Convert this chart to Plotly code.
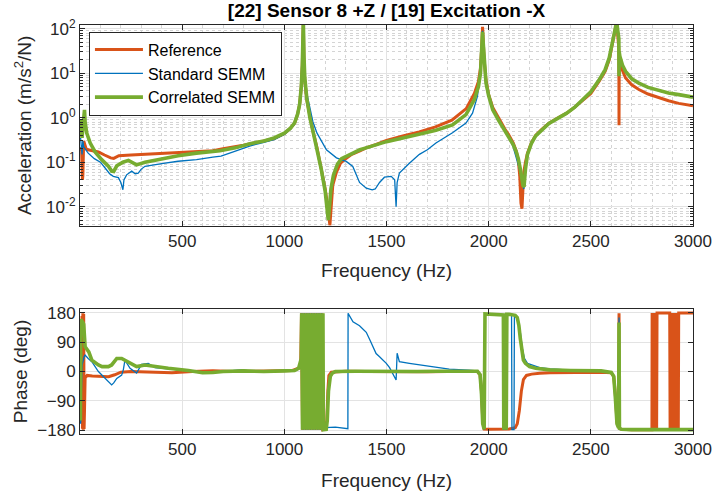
import plotly.graph_objects as go

# ---------------- data ----------------
ref_f = [3, 8, 12, 14, 18, 22, 30, 40, 60, 90, 120, 150, 165, 190, 250, 320, 400, 480, 570, 650, 700, 800, 900, 950,
         1000, 1030, 1050, 1065, 1075, 1083, 1088, 1091, 1093, 1096, 1100, 1110, 1125, 1140, 1160, 1180, 1200, 1210,
         1217, 1223, 1228, 1237, 1255, 1275, 1300, 1330, 1370, 1400, 1450, 1500, 1580, 1660, 1740, 1820, 1890, 1930,
         1950, 1960, 1966, 1970, 1973, 1978, 1987, 2000, 2020, 2050, 2080, 2100, 2120, 2135, 2145, 2152, 2158, 2163,
         2166, 2172, 2180, 2190, 2210, 2230, 2260, 2295, 2340, 2380, 2420, 2460, 2500, 2540, 2570, 2590, 2605, 2615,
         2622, 2628, 2633, 2637, 2638, 2639, 2642, 2650, 2670, 2700, 2735, 2780, 2830, 2880, 2930, 2970, 3000]
ref_mag = [0.22, 0.18, 0.04, 0.05, 0.3, 0.25, 0.2, 0.19, 0.18, 0.17, 0.145, 0.125, 0.122, 0.14, 0.145, 0.15, 0.155,
           0.16, 0.17, 0.18, 0.2, 0.24, 0.3, 0.34, 0.44, 0.58, 0.75, 1.2, 2.0, 5, 15, 60, 150, 20, 7, 2.5, 1.0, 0.5,
           0.21, 0.075, 0.025, 0.012, 0.006, 0.0038, 0.008, 0.03, 0.06, 0.095, 0.12, 0.15, 0.18, 0.21, 0.25, 0.31,
           0.39, 0.48, 0.62, 0.88, 1.6, 3.5, 6.5, 13, 38, 110, 60, 20, 7, 3.3, 1.7, 0.95, 0.55, 0.4, 0.27, 0.18, 0.11,
           0.05, 0.012, 0.009, 0.015, 0.06, 0.1, 0.16, 0.28, 0.4, 0.55, 0.75, 1.0, 1.25, 1.7, 2.4, 3.5, 6.5, 11, 20,
           40, 75, 110, 130, 60, 35, 0.68, 28, 20, 13, 7.8, 5.5, 4.3, 3.4, 2.8, 2.4, 2.1, 1.95, 1.85]

std_f = [3, 6, 10, 14, 18, 25, 40, 70, 100, 123, 145, 163, 188, 200, 210, 215, 228, 253, 270, 285, 300, 318, 360, 400,
         480, 570, 650, 690, 750, 830, 900, 950, 1000, 1030, 1050, 1065, 1075, 1083, 1088, 1091, 1093, 1096, 1100,
         1110, 1125, 1140, 1160, 1180, 1206, 1255, 1303, 1335, 1355, 1368, 1401, 1430, 1445, 1466, 1490, 1523, 1540,
         1547, 1552, 1563, 1612, 1661, 1700, 1742, 1823, 1889, 1921, 1945, 1958, 1966, 1970, 1973, 1978, 1987, 2000,
         2020, 2050, 2080, 2100, 2120, 2135, 2145, 2155, 2165, 2172, 2178, 2190, 2210, 2230, 2260, 2295, 2340, 2380,
         2420, 2460, 2500, 2540, 2570, 2590, 2605, 2615, 2622, 2628, 2633, 2637, 2638, 2639, 2642, 2655, 2670, 2700,
         2735, 2780, 2830, 2880, 2930, 2970, 3000]
std_mag = [0.35, 0.25, 0.15, 0.3, 0.22, 0.2, 0.16, 0.12, 0.1, 0.074, 0.055, 0.048, 0.045, 0.035, 0.024, 0.04, 0.052,
           0.063, 0.055, 0.057, 0.07, 0.081, 0.088, 0.093, 0.105, 0.114, 0.13, 0.137, 0.17, 0.23, 0.28, 0.32, 0.42,
           0.55, 0.72, 1.15, 2.0, 5, 15, 60, 110, 25, 9, 3.5, 1.6, 0.8, 0.45, 0.3, 0.19, 0.125, 0.104, 0.08, 0.05,
           0.035, 0.026, 0.024, 0.025, 0.035, 0.046, 0.048, 0.04, 0.01, 0.035, 0.057, 0.095, 0.15, 0.19, 0.27, 0.46,
           0.76, 1.26, 3, 9, 30, 90, 50, 17, 6.5, 3.2, 1.6, 0.9, 0.5, 0.35, 0.22, 0.13, 0.09, 0.06, 0.035, 0.025, 0.05,
           0.14, 0.26, 0.38, 0.53, 0.73, 0.97, 1.22, 1.65, 2.4, 3.7, 6.8, 11.5, 21, 43, 80, 105, 120, 85, 55, 10, 28,
           23, 14.5, 10.5, 7.3, 5.8, 4.7, 4.0, 3.5, 3.2, 3.0, 2.85]

cor_f = [3, 6, 10, 14, 18, 22, 25, 33, 50, 74, 106, 139, 155, 165, 180, 210, 237, 260, 277, 318, 400, 480, 570, 685,
         760, 832, 900, 950, 1000, 1030, 1050, 1065, 1075, 1083, 1088, 1091, 1093, 1096, 1100, 1110, 1125, 1140,
         1157, 1181, 1200, 1208, 1215, 1220, 1228, 1240, 1260, 1280, 1320, 1370, 1400, 1450, 1500, 1580, 1660, 1742,
         1823, 1889, 1929, 1950, 1960, 1966, 1970, 1973, 1978, 1987, 2000, 2020, 2050, 2080, 2100, 2120, 2135, 2145,
         2155, 2163, 2168, 2173, 2175, 2177, 2180, 2190, 2210, 2230, 2260, 2295, 2340, 2380, 2420, 2460, 2500, 2540,
         2570, 2590, 2605, 2615, 2622, 2628, 2633, 2637, 2638, 2639, 2642, 2655, 2670, 2700, 2735, 2780, 2830, 2880,
         2930, 2970, 3000]
cor_mag = [0.9, 0.5, 0.35, 0.6, 1.2, 1.5, 0.8, 0.45, 0.27, 0.17, 0.114, 0.081, 0.063, 0.062, 0.083, 0.1, 0.11,
           0.095, 0.087, 0.1, 0.12, 0.14, 0.16, 0.18, 0.21, 0.26, 0.3, 0.35, 0.45, 0.58, 0.76, 1.2, 2.0, 5, 15, 60,
           150, 25, 8, 2.7, 1.0, 0.5, 0.23, 0.068, 0.022, 0.011, 0.005, 0.009, 0.025, 0.05, 0.09, 0.12, 0.15, 0.19,
           0.21, 0.25, 0.29, 0.35, 0.42, 0.52, 0.69, 1.17, 2.5, 5, 10, 30, 85, 50, 18, 6, 3.1, 1.5, 0.85, 0.5, 0.36,
           0.25, 0.17, 0.12, 0.07, 0.04, 0.03, 0.028, 0.05, 0.03, 0.07, 0.15, 0.27, 0.39, 0.54, 0.74, 0.98, 1.25,
           1.7, 2.5, 3.8, 7, 12, 22, 45, 85, 115, 125, 90, 60, 8.5, 30, 24, 15, 11, 7.5, 6, 4.8, 4.1, 3.6, 3.3, 3.05,
           2.9]

ref_ph_f = [3, 8, 10, 12, 14, 16, 18, 20, 22, 25, 35, 60, 100, 140, 170, 200, 250, 350, 450, 550, 650, 750, 850, 950,
            1040, 1070, 1080, 1084, 1089, 1094, 1099, 1104, 1109, 1114, 1119, 1124, 1129, 1134, 1139, 1144, 1149,
            1154, 1159, 1164, 1169, 1174, 1179, 1184, 1188, 1200, 1208, 1213, 1218, 1230, 1300, 1400, 1500, 1600,
            1700, 1800, 1900, 1945, 1958, 1965, 1971, 1978, 2000, 2100, 2130, 2140, 2150, 2160, 2170, 2185, 2210,
            2250, 2300, 2400, 2550, 2600, 2612, 2620, 2628, 2636, 2638, 2640, 2650, 2700, 2799,
            2800, 2802, 2804, 2806, 2808, 2810, 2812, 2814, 2816, 2818, 2820, 2822, 2824,
            2886, 2888, 2890, 2892, 2894, 2896, 2898, 2900, 2902, 2904, 2906, 2908, 2910, 2912, 2914, 2916, 2918,
            2920, 2922, 2924, 2926, 2928, 2930, 3000]
ref_ph = [5, 0, 170, -175, 178, -178, 176, -176, -120, -20, -12, -14, -15, -16, -10, -2, 0, -3, -4, 0, 2, 0, 1, 2,
          3, 10, 20, 178, -178, 178, -178, 178, -178, 178, -178, 178, -178, 178, -178, 178, -178,
          178, -178, 178, -178, 178, -178, 178, -178, -176, -150, -60, -12, -2, 1, 0, -1, 0,
          -1, 0, 1, 0, -10, -60, -150, -176, -177, -176, -172, -160, -120, -60, -25, -12, -8,
          -5, -4, -3, -2, -4, -15, -70, -155, -172, 178, -174, -177, -178, -178,
          179, -179, 179, -179, 179, -179, 179, -179, 179, -179, 179, -179, 179,
          179, -179, 179, -179, 179, -179, 179, -179, 179, -179, 179, -179, 179, -179, 179, -179, 179,
          -179, 179, -179, 179, -179, 179, 179]

std_ph_f = [3, 6, 10, 20, 25, 40, 58, 90, 120, 139, 155, 165, 180, 204, 212, 220, 245, 277, 301, 334, 367, 432, 530,
            600, 700, 790, 850, 1000, 1060, 1075, 1084, 1086, 1092, 1098, 1104, 1110, 1116, 1122, 1128, 1134, 1140,
            1146, 1152, 1158, 1164, 1170, 1176, 1182, 1188, 1200, 1250, 1305, 1311, 1312, 1336, 1368, 1401, 1420,
            1449, 1466, 1499, 1515, 1531, 1547, 1552, 1563, 1612, 1645, 1726, 1807, 1900, 1945, 1958, 1965, 1971,
            1978, 1982, 2060, 2072, 2074, 2080, 2086, 2089, 2112, 2114, 2124, 2126, 2140, 2155, 2165, 2175, 2190,
            2210, 2250, 2300, 2400, 2550, 2600, 2612, 2620, 2628, 2636, 2638, 2640, 2650, 3000]
std_ph = [-160, -100, 20, 45, 50, 40, 30, 0, -20, -31, -41, -35, -21, -11, 5, 35, 10, -5, 22, 25, 12, 8, 3,
          -2, 0, 5, 0, 1, 5, 15, 25, 178, -178, 178, -178, 178, -178, 178, -178, 178, -178,
          178, -178, 178, -178, 178, -178, 178, -178, -172, -170, -173, -175, 178, 152, 140, 120, 95,
          55, 45, 25, 12, -5, -26, 56, 30, 25, 22, 13, 7, 4, 2, -10, -70, -160,
          -177, 175, 174, 173, -178, 175, -178, 175, 174, -178, -178, 174, 168, 120, 70, 40, 25,
          20, 12, 8, 4, 2, -3, -15, -75, -158, -172, 165, -174, -177, -178]

cor_ph_f = [2, 4, 8, 14, 18, 25, 43, 58, 90, 108, 139, 155, 180, 204, 237, 277, 318, 367, 432, 530, 600, 650, 700,
            800, 900, 1000, 1050, 1070, 1078, 1083, 1085, 1089, 1093, 1097, 1101, 1105, 1109, 1113, 1117, 1121, 1125,
            1129, 1133, 1137, 1141, 1145, 1149, 1153, 1157, 1161, 1165, 1169, 1173, 1177, 1181, 1185, 1189, 1191,
            1205, 1210, 1216, 1225, 1235, 1250, 1350, 1450, 1550, 1650, 1750, 1850, 1945, 1958, 1965, 1971, 1978,
            1982, 2060, 2072, 2074, 2080, 2086, 2089, 2100, 2130, 2140, 2148, 2155, 2162, 2170, 2180, 2200, 2230,
            2260, 2300, 2400, 2550, 2600, 2612, 2620, 2628, 2636, 2638, 2640, 2650, 2700, 3000]
cor_ph = [-150, 160, 155, 150, 145, 76, 60, 35, 20, 15, 15, 20, 40, 40, 30, 15, 20, 15, 10, 3, -4, -3, 0,
          2, 0, 2, 3, 10, 25, 40, 178, -178, 178, -178, 178, -178, 178, -178, 178, -178, 178,
          -178, 178, -178, 178, -178, 178, -178, 178, -178, 178, -178, 178, -178, 178, -178, 178, -178,
          -177, -150, -60, -15, -5, 0, 1, 0, 1, 0, 1, 0, 1, -10, -70, -160, -177,
          176, 174, 173, -178, 175, -178, 175, 175, 172, 165, 140, 100, 60, 35, 25, 15, 10,
          7, 5, 3, 2, -3, -15, -80, -160, -172, 150, -174, -177, -178, -178]

mag_ticks = [0.01, 0.1, 1, 10, 100]
mag_ticktext = ['10<sup>-2</sup>', '10<sup>-1</sup>', '10<sup>0</sup>', '10<sup>1</sup>', '10<sup>2</sup>']
freq_ticks = [500, 1000, 1500, 2000, 2500, 3000]
phase_ticks = [-180, -90, 0, 90, 180]

# ---------------- figure ----------------
FONT = 'Liberation Sans, Arial, Helvetica, sans-serif'
AX = '#262626'
TICK = 17
LAB = 19
series = [
    ('Reference', ref_f, ref_mag, ref_ph_f, ref_ph, '#D95319', 3.0),
    ('Standard SEMM', std_f, std_mag, std_ph_f, std_ph, '#0072BD', 1.3),
    ('Correlated SEMM', cor_f, cor_mag, cor_ph_f, cor_ph, '#77AC30', 3.6),
]

fig = go.Figure()
for name, f, m, pf, p, c, w in series:
    fig.add_trace(go.Scatter(x=f, y=m, mode='lines', name=name,
                             line=dict(color=c, width=w), xaxis='x', yaxis='y'))
for name, f, m, pf, p, c, w in series:
    fig.add_trace(go.Scatter(x=pf, y=p, mode='lines', name=name, showlegend=False,
                             line=dict(color=c, width=w), xaxis='x2', yaxis='y2'))

def xaxis_style(standoff):
    return dict(range=[0, 3000], tickvals=freq_ticks, ticks='inside', ticklen=5, tickcolor=AX,
                showline=True, linecolor=AX, linewidth=1, mirror='ticks', zeroline=False,
                showgrid=True, gridcolor='#e3e3e3', gridwidth=1, automargin=False,
                tickfont=dict(size=TICK, color=AX, family=FONT),
                title=dict(text='Frequency (Hz)', font=dict(size=LAB, color=AX, family=FONT), standoff=standoff))

TOP_DOM = [0.5093, 1]
fig.update_layout(
    width=713, height=495,
    margin=dict(l=80, r=20, t=25, b=61, autoexpand=False),
    paper_bgcolor='white', plot_bgcolor='white',
    font=dict(family=FONT, color=AX),
    title=dict(text='<b>[22] Sensor 8 +Z / [19] Excitation -X</b>', x=0.5, xref='paper', xanchor='center',
               y=1 - 10 / 495, yref='container', yanchor='middle', automargin=False,
               font=dict(size=19, color='#000000', family=FONT)),
    xaxis=dict(domain=[0, 1], anchor='y', **xaxis_style(13),
               minor=dict(dtick=100, showgrid=True, griddash='dot', gridcolor='#d4d4d4', gridwidth=1, ticks='')),
    yaxis=dict(domain=TOP_DOM, anchor='x', type='log', range=[-2.427, 2.083], automargin=False,
               tickvals=mag_ticks, ticktext=mag_ticktext, ticks='inside', ticklen=5, tickcolor=AX,
               showline=True, linecolor=AX, linewidth=1, mirror='ticks', zeroline=False,
               showgrid=True, gridcolor='#e3e3e3', gridwidth=1,
               minor=dict(dtick='D1', showgrid=True, griddash='dot', gridcolor='#d4d4d4', gridwidth=1,
                          ticks='inside', ticklen=3, tickcolor=AX),
               tickfont=dict(size=TICK, color=AX, family=FONT),
               title=dict(text='Acceleration (m/s<sup>2</sup>/N)', font=dict(size=LAB, color=AX, family=FONT),
                          standoff=9)),
    xaxis2=dict(domain=[0, 1], anchor='y2', **xaxis_style(15)),
    yaxis2=dict(domain=[0, 0.3056], anchor='x2', range=[-191.3, 191.3], tickvals=phase_ticks, automargin=False,
                ticks='inside', ticklen=5, tickcolor=AX,
                showline=True, linecolor=AX, linewidth=1, mirror='ticks', zeroline=False,
                showgrid=True, gridcolor='#e3e3e3', gridwidth=1,
                tickfont=dict(size=TICK, color=AX, family=FONT),
                title=dict(text='Phase (deg)', font=dict(size=LAB, color=AX, family=FONT), standoff=4)),
    legend=dict(x=0.0146, y=TOP_DOM[0] + 0.967 * (TOP_DOM[1] - TOP_DOM[0]), xref='paper', yref='paper',
                xanchor='left', yanchor='top', itemwidth=48,
                bgcolor='white', bordercolor=AX, borderwidth=1,
                font=dict(size=16, color='#000000', family=FONT), tracegroupgap=0),
    showlegend=True,
)

fig.write_html('out.html', config={'displayModeBar': False},
               post_script="document.body.style.margin='0';document.body.style.overflow='hidden';")
